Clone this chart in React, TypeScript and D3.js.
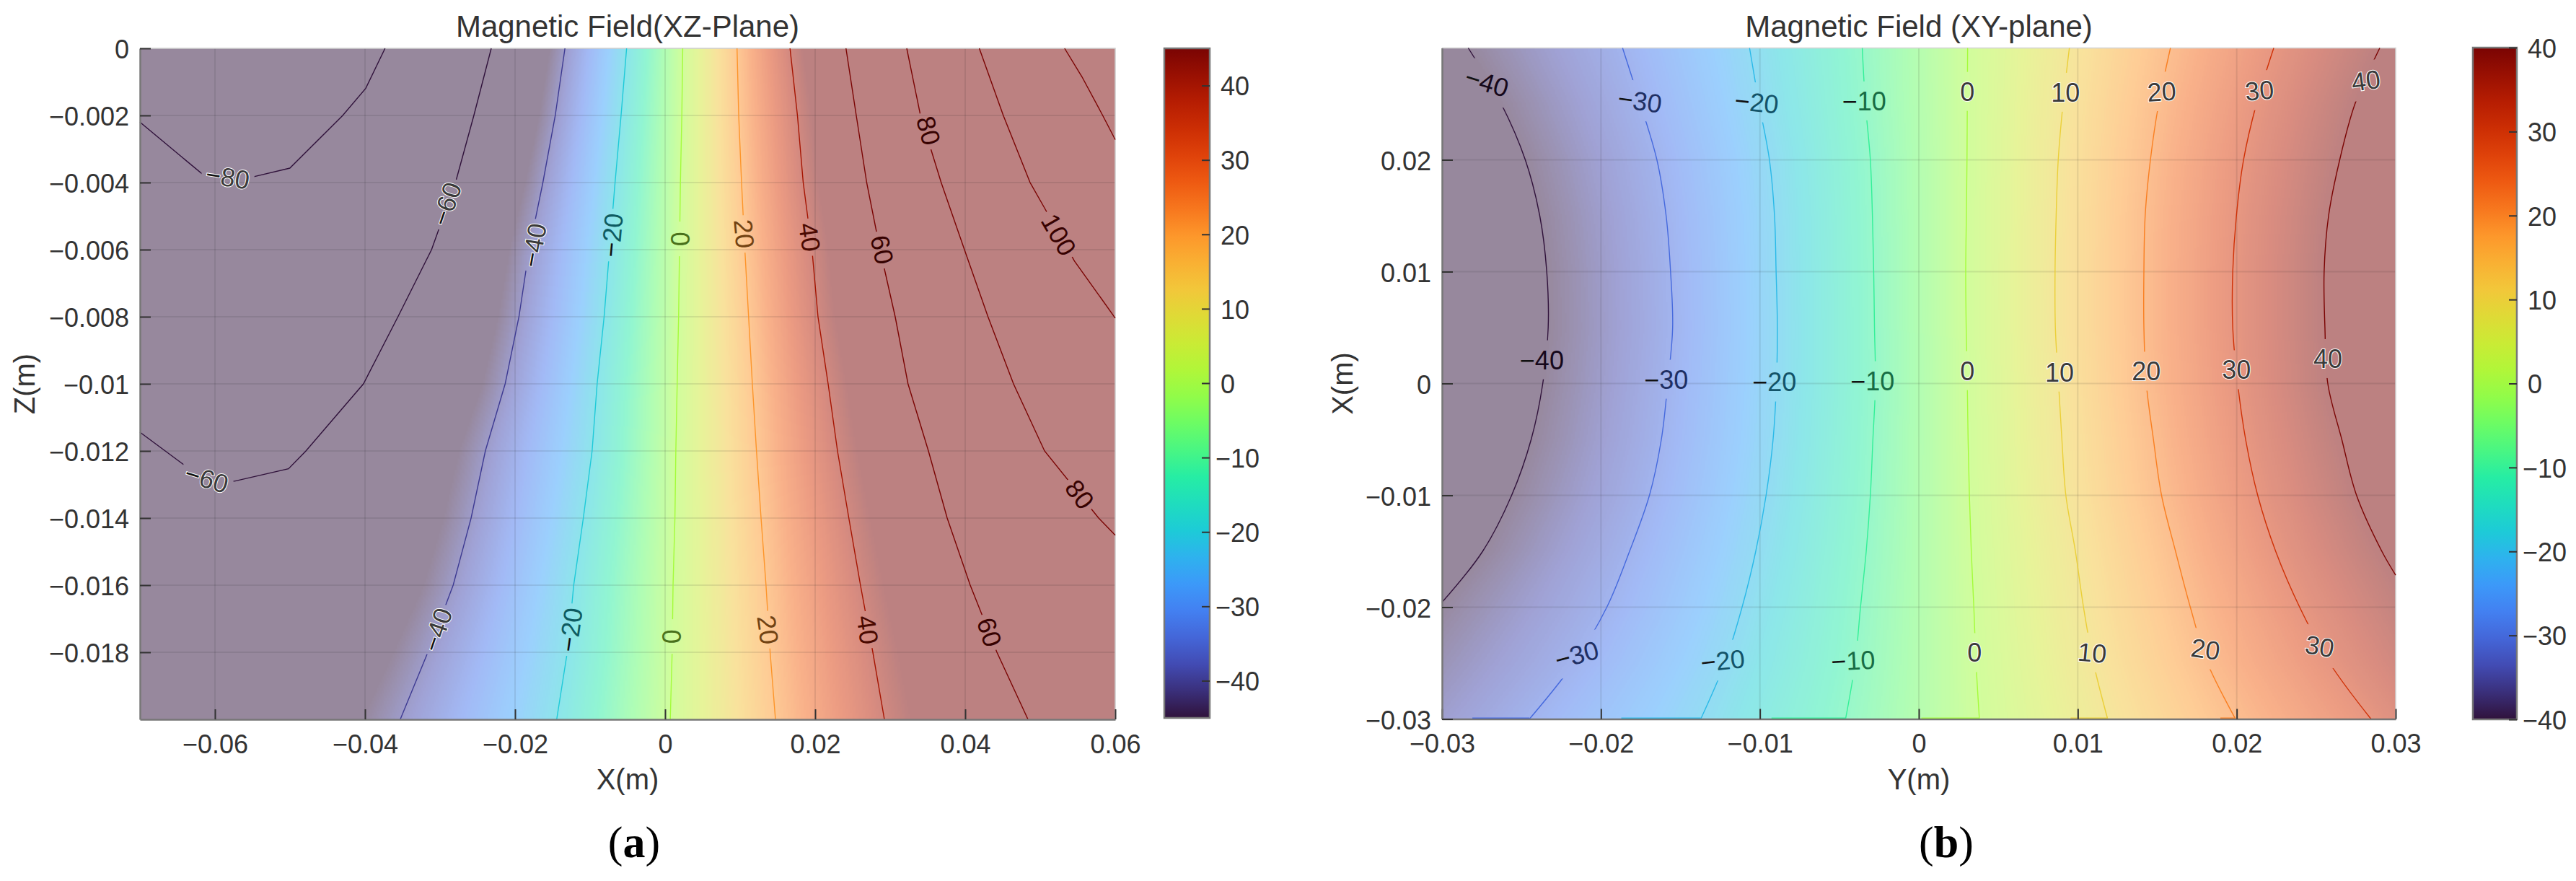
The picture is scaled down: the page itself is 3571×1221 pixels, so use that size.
import React, { useRef, useEffect } from "react"
import * as d3 from "d3"

// ---- panel (a), XZ plane: x position of each contour at each z row
const zRows = [0, -0.002, -0.004, -0.006, -0.008, -0.01, -0.012, -0.014, -0.016, -0.018, -0.02]
const xzM40 = [-0.01335, -0.01464, -0.01629, -0.01813, -0.01948, -0.02132, -0.02396, -0.02586, -0.02825, -0.03162, -0.0353]
const xzM20 = [-0.00513, -0.00587, -0.00667, -0.0074, -0.00813, -0.00906, -0.00973, -0.0109, -0.01218, -0.01304, -0.01445]
const xz0 = [0.00235, 0.00223, 0.00204, 0.00192, 0.0018, 0.00161, 0.00143, 0.00131, 0.00106, 0.00094, 0.00069]
const xz20 = [0.00959, 0.00981, 0.01019, 0.01063, 0.01113, 0.01163, 0.01218, 0.01279, 0.01345, 0.014, 0.01471]
const xz40 = [0.01665, 0.01764, 0.01841, 0.01958, 0.02038, 0.02173, 0.02298, 0.02449, 0.02604, 0.02769, 0.02923]
const xz60 = [0.02411, 0.02548, 0.02687, 0.02865, 0.03067, 0.03238, 0.0351, 0.0376, 0.04067, 0.04423, 0.04837]
const xz80 = [[0.03221, 0], [0.03404, -0.002], [0.0368, -0.004], [0.0399, -0.006], [0.04304, -0.008], [0.04644, -0.01], [0.05058, -0.012], [0.05779, -0.014], [0.06, -0.01451]]
const xz100 = [[0.04188, 0], [0.04508, -0.002], [0.04865, -0.004], [0.05048, -0.00472], [0.05457, -0.00634], [0.06, -0.00804]]
const xz120 = [[0.05325, 0], [0.05557, -0.00085], [0.05833, -0.002], [0.06, -0.00272]]
const xzM60 = [[-0.02317, 0], [-0.02549, -0.002], [-0.02794, -0.004], [-0.03113, -0.006], [-0.03561, -0.008], [-0.04021, -0.01], [-0.04788, -0.012], [-0.0502, -0.01253], [-0.0574, -0.0129], [-0.0611, -0.01282], [-0.0641, -0.01242], [-0.07, -0.01144]]
const xzM80 = [[-0.03733, 0], [-0.0399, -0.00119], [-0.04297, -0.002], [-0.05002, -0.00357], [-0.05492, -0.00383], [-0.058, -0.00383], [-0.06167, -0.00375], [-0.07, -0.0022]]

// [level, x, z, rotation, halo]
const labelsA = [
  [-80, -0.0583, -0.00383, 9, 1], [-60, -0.02917, -0.00464, -71, 1], [-60, -0.0611, -0.01282, 17, 1],
  [-40, -0.01752, -0.00587, -80, 1], [-20, -0.0071, -0.00557, -85, 0], [0, 0.00198, -0.00568, -90, 0],
  [20, 0.01058, -0.00553, 85, 0], [40, 0.0193, -0.00563, 82, 0], [60, 0.02895, -0.006, 78, 0],
  [80, 0.03514, -0.00245, 75, 0], [100, 0.0525, -0.00555, 60, 0],
  [-40, -0.0304, -0.01733, -71, 1], [-20, -0.01262, -0.01733, -82, 0], [0, 0.00087, -0.01753, -90, 0],
  [20, 0.01373, -0.01733, 82, 0], [40, 0.02702, -0.01733, 82, 0], [60, 0.04326, -0.0174, 72, 0], [80, 0.05529, -0.01329, 53, 0],
]

// ---- panel (b), XY plane: y position (horizontal axis) of each contour at each x row
const xRows = [0.03, 0.025, 0.02, 0.015, 0.01, 0.005, 0, -0.005, -0.01, -0.015, -0.02, -0.025, -0.03]
const xyM40 = [-0.02835, -0.02627, -0.02476, -0.02385, -0.02341, -0.02332, -0.02366, -0.02439, -0.02562, -0.02744]
const xyM30 = [-0.01864, -0.01752, -0.01648, -0.0159, -0.01562, -0.01549, -0.0158, -0.0162, -0.01695, -0.0182, -0.01963, -0.02171, -0.0245]
const xyM20 = [-0.01065, -0.01005, -0.0094, -0.00908, -0.00898, -0.0089, -0.00896, -0.00917, -0.00961, -0.01026, -0.01112, -0.01221, -0.01372]
const xyM10 = [-0.00356, -0.00336, -0.00305, -0.00292, -0.00284, -0.00279, -0.00273, -0.00289, -0.00305, -0.00331, -0.00367, -0.00401, -0.00461]
const xy0 = [0.00307, 0.00305, 0.00303, 0.00299, 0.00295, 0.00298, 0.00305, 0.0031, 0.00318, 0.0033, 0.00346, 0.0036, 0.00381]
const xy10 = [0.00947, 0.00907, 0.00877, 0.00864, 0.00857, 0.00859, 0.00879, 0.009, 0.00925, 0.00985, 0.01036, 0.01099, 0.01188]
const xy20 = [0.01583, 0.01509, 0.01457, 0.01424, 0.01416, 0.01416, 0.01431, 0.01476, 0.01527, 0.01615, 0.01708, 0.01816, 0.01993]
const xy30 = [0.02233, 0.02124, 0.02043, 0.01998, 0.01975, 0.01975, 0.02006, 0.02056, 0.02132, 0.02245, 0.02396, 0.02585, 0.02845]
const xy40 = [0.029, 0.02744, 0.02648, 0.02578, 0.0255, 0.02555, 0.02573, 0.02661, 0.02754, 0.02913]

// where the contours run along the bottom edge of (b)
const bottomRuns = [
  [-30, [-0.0245, -0.02809]], [-20, [-0.01372, -0.01872]], [-10, [-0.00461, -0.00927]],
  [0, [0.00381, 0.00016]], [10, [0.01188, 0.00955]], [20, [0.01993, 0.01897]],
]

const labelsB = [
  [-40, -0.02718, 0.02694, 17, 0], [-30, -0.01755, 0.02528, 8, 0], [-20, -0.0102, 0.02516, 6, 0], [-10, -0.00344, 0.02527, 0, 0],
  [0, 0.00305, 0.02612, 0, 1], [10, 0.00922, 0.02604, 0, 1], [20, 0.01527, 0.02612, -3, 1], [30, 0.02143, 0.02622, -5, 1], [40, 0.02812, 0.02711, -8, 1],
  [-40, -0.02372, 0.00212, 0, 0], [-30, -0.0159, 0.00038, 0, 0], [-20, -0.00909, 0.00013, 0, 0], [-10, -0.00292, 0.00025, 0, 0],
  [0, 0.00305, 0.00115, 0, 1], [10, 0.00885, 0.00102, 0, 1], [20, 0.01431, 0.0011, 0, 1], [30, 0.01998, 0.00123, 0, 1], [40, 0.02573, 0.00223, 0, 1],
  [-30, -0.02153, -0.02424, -15, 0], [-20, -0.01234, -0.02476, -6, 0], [-10, -0.00414, -0.02476, -3, 0],
  [0, 0.00351, -0.02406, 0, 1], [10, 0.01091, -0.02406, 5, 1], [20, 0.01804, -0.02374, 8, 1], [30, 0.02522, -0.02348, 10, 1],
]

const xTicksA = [-0.06, -0.04, -0.02, 0, 0.02, 0.04, 0.06]
const yTicksA = [0, -0.002, -0.004, -0.006, -0.008, -0.01, -0.012, -0.014, -0.016, -0.018]
const xTicksB = [-0.03, -0.02, -0.01, 0, 0.01, 0.02, 0.03]
const yTicksB = [0.02, 0.01, 0, -0.01, -0.02, -0.03]
const barTicks = [-40, -30, -20, -10, 0, 10, 20, 30, 40]

// the colour map of the bars, d3's own turbo ends on other colours
const turboStops = ["#30123b", "#4145ab", "#4675ed", "#39a2fc", "#1bcfd4", "#24eca6", "#61fc6c", "#a4fc3b", "#d1e834", "#f3c63a", "#fe9b2d", "#f36315", "#d93806", "#b11901", "#7a0403"]
const turboMap = d3.piecewise(d3.interpolateRgb, turboStops)

const rowPts = (xs, rows) => xs.map((x, i) => [x, rows[i]])

const panelA = {
  id: "a",
  title: "Magnetic Field(XZ-Plane)",
  xLabel: "X(m)",
  yLabel: "Z(m)",
  caption: "a",
  captionX: 879,
  xDomain: [-0.07, 0.06],
  yDomain: [0, -0.02],
  box: { left: 194, right: 1546, top: 67, bottom: 997 },
  bar: { left: 1614, right: 1677, top: 67, bottom: 995 },
  barDomain: [-45, 45],
  xTicks: xTicksA,
  yTicks: yTicksA,
  yLabelX: 48,
  gapHeight: 36,
  labels: labelsA,
  curve: d3.curveLinear,
  runs: [],
  field: [
    [-40, rowPts(xzM40, zRows)], [-20, rowPts(xzM20, zRows)], [0, rowPts(xz0, zRows)],
    [20, rowPts(xz20, zRows)], [40, rowPts(xz40, zRows)],
  ],
  contours: [
    [-80, xzM80], [-60, xzM60], [-40, rowPts(xzM40, zRows)], [-20, rowPts(xzM20, zRows)], [0, rowPts(xz0, zRows)],
    [20, rowPts(xz20, zRows)], [40, rowPts(xz40, zRows)], [60, rowPts(xz60, zRows)], [80, xz80], [100, xz100], [120, xz120],
  ],
}

const endM40 = [[-0.03, -0.01957]]
const end40 = [[0.03, -0.01713]]

const contoursB = [
  [-40, rowPts(xyM40, xRows).concat(endM40)], [-30, rowPts(xyM30, xRows)], [-20, rowPts(xyM20, xRows)], [-10, rowPts(xyM10, xRows)],
  [0, rowPts(xy0, xRows)], [10, rowPts(xy10, xRows)], [20, rowPts(xy20, xRows)], [30, rowPts(xy30, xRows)], [40, rowPts(xy40, xRows).concat(end40)],
]

const panelB = {
  id: "b",
  title: "Magnetic Field (XY-plane)",
  xLabel: "Y(m)",
  yLabel: "X(m)",
  caption: "b",
  captionX: 2698,
  xDomain: [-0.03, 0.03],
  yDomain: [0.03, -0.03],
  box: { left: 1999, right: 3321, top: 66.5, bottom: 996.5 },
  bar: { left: 3428, right: 3489, top: 66, bottom: 997 },
  barDomain: [-40, 40],
  xTicks: xTicksB,
  yTicks: yTicksB,
  yLabelX: 1875,
  gapHeight: 54,
  labels: labelsB,
  curve: d3.curveCatmullRom.alpha(0.5),
  runs: bottomRuns,
  field: contoursB,
  contours: contoursB,
}

const SANS = '"Liberation Sans", Arial, sans-serif'
const INK = "#333"

// paints the field into a half resolution canvas, contour positions drive the values
function heatImage(p, x, y) {
  const { left, right, top, bottom } = p.box
  const w = Math.round((right - left) / 2)
  const h = Math.round((bottom - top) / 2)
  const canvas = document.createElement("canvas")
  canvas.width = w
  canvas.height = h
  const ctx = canvas.getContext("2d")
  const img = ctx.createImageData(w, h)
  const lut = d3.range(256).map(i => d3.rgb(turboMap(i / 255)))
  const toIndex = d3.scaleLinear().domain(p.barDomain).rangeRound([0, 255]).clamp(true)
  const crossings = p.field.map(([, pts]) =>
    d3.scaleLinear().domain(pts.map(d => d[1])).range(pts.map(d => d[0])))
  const levels = p.field.map(d => d[0])
  for (let j = 0; j < h; j++) {
    const yv = y.invert(top + (j + 0.5) * 2)
    const valueAt = d3.scaleLinear().domain(crossings.map(s => s(yv))).range(levels)
    for (let i = 0; i < w; i++) {
      const c = lut[toIndex(valueAt(x.invert(left + (i + 0.5) * 2)))]
      const k = (j * w + i) * 4
      img.data[k] = c.r
      img.data[k + 1] = c.g
      img.data[k + 2] = c.b
      img.data[k + 3] = 128
    }
  }
  ctx.putImageData(img, 0, 0)
  return canvas.toDataURL()
}

function drawPanel(svg, defs, p) {
  const { left, right, top, bottom } = p.box
  const x = d3.scaleLinear().domain(p.xDomain).range([left, right])
  const y = d3.scaleLinear().domain(p.yDomain).range([top, bottom])
  const g = svg.append("g")

  g.append("image")
    .attr("x", left).attr("y", top)
    .attr("width", right - left).attr("height", bottom - top)
    .attr("preserveAspectRatio", "none")
    .attr("href", heatImage(p, x, y))

  // grid
  g.append("g").selectAll("line").data(p.xTicks).join("line")
    .attr("x1", d => x(d)).attr("x2", d => x(d))
    .attr("y1", top).attr("y2", bottom)
    .attr("stroke", "#222").attr("stroke-opacity", 0.1).attr("stroke-width", 2)
  g.append("g").selectAll("line").data(p.yTicks).join("line")
    .attr("x1", left).attr("x2", right)
    .attr("y1", d => y(d)).attr("y2", d => y(d))
    .attr("stroke", "#222").attr("stroke-opacity", 0.1).attr("stroke-width", 2)

  // light top and right edges
  g.append("path")
    .attr("d", `M${left},${top}H${right}V${bottom}`)
    .attr("fill", "none").attr("stroke", "#d4d4d4").attr("stroke-width", 1.5)

  const colour = d3.scaleLinear().domain(p.barDomain).range([0, 1]).clamp(true)
  const turbo = v => turboMap(colour(v))
  const textWidth = v => (v < 0 ? 21 : 0) + String(Math.abs(v)).length * 20

  // gaps in the contours where the labels sit
  const mask = defs.append("mask").attr("id", "gaps-" + p.id)
    .attr("maskUnits", "userSpaceOnUse")
    .attr("x", 0).attr("y", 0).attr("width", 3571).attr("height", 1221)
  mask.append("rect").attr("width", 3571).attr("height", 1221).attr("fill", "white")
  mask.selectAll("rect.gap").data(p.labels).join("rect")
    .attr("class", "gap")
    .attr("x", d => -Math.max(textWidth(d[0]) + 12, 48) / 2)
    .attr("y", -p.gapHeight / 2)
    .attr("width", d => Math.max(textWidth(d[0]) + 12, 48))
    .attr("height", p.gapHeight)
    .attr("fill", "black")
    .attr("transform", d => `translate(${x(d[1])},${y(d[2])}) rotate(${d[3]})`)

  const line = d3.line().x(d => x(d[0])).y(d => y(d[1])).curve(p.curve)
  g.append("g").attr("mask", `url(#gaps-${p.id})`)
    .selectAll("path").data(p.contours).join("path")
    .attr("d", d => line(d[1]))
    .attr("fill", "none")
    .attr("stroke", d => turbo(d[0]))
    .attr("stroke-width", 1.4)

  // short stretches of contour lying on the bottom edge
  g.append("g").selectAll("line").data(p.runs).join("line")
    .attr("x1", d => x(d[1][0])).attr("x2", d => x(d[1][1]))
    .attr("y1", bottom - 1).attr("y2", bottom - 1)
    .attr("stroke", d => turbo(d[0]))
    .attr("stroke-width", 2)

  // contour labels
  const labels = g.append("g").selectAll("text").data(p.labels).join("text")
    .attr("transform", d => `translate(${x(d[1])},${y(d[2])}) rotate(${d[3]})`)
    .attr("text-anchor", "middle")
    .attr("dy", "0.36em")
    .attr("font-family", SANS)
    .attr("font-size", 36)
    .attr("fill", d => d[4] ? "#3a3a3a" : d3.interpolateRgb(turbo(d[0]), "#000")(0.55))
    .attr("stroke", d => d[4] ? "#fff" : "none")
    .attr("stroke-width", 2)
    .attr("paint-order", "stroke")
  labels.filter(d => d[0] < 0).append("tspan")
    .attr("fill", "#111").text("\u2212")
  labels.append("tspan").text(d => Math.abs(d[0]))

  // axes
  const fmt = d3.format("~g")
  const bottomAxis = g.append("g").attr("transform", `translate(0,${bottom})`)
    .call(d3.axisBottom(x).tickValues(p.xTicks).tickFormat(fmt).tickSizeInner(-14).tickSizeOuter(0).tickPadding(21))
  const leftAxis = g.append("g").attr("transform", `translate(${left},0)`)
    .call(d3.axisLeft(y).tickValues(p.yTicks).tickFormat(fmt).tickSizeInner(-15).tickSizeOuter(0).tickPadding(15))
  for (const a of [bottomAxis, leftAxis]) {
    a.select(".domain").attr("stroke", "#777").attr("stroke-width", 2.5)
    a.selectAll(".tick line").attr("stroke", "#333").attr("stroke-width", 2)
    a.selectAll("text").attr("font-family", SANS).attr("font-size", 36).attr("fill", INK)
  }
  leftAxis.selectAll("text").attr("dy", "0.375em")

  // titles
  const cx = (left + right) / 2
  const cy = (top + bottom) / 2
  g.append("text").attr("x", cx).attr("y", 51).attr("text-anchor", "middle")
    .attr("font-family", SANS).attr("font-size", 42).attr("fill", INK).text(p.title)
  g.append("text").attr("x", cx).attr("y", 1094).attr("text-anchor", "middle")
    .attr("font-family", SANS).attr("font-size", 40).attr("fill", INK).text(p.xLabel)
  g.append("text").attr("transform", `translate(${p.yLabelX},${cy}) rotate(-90)`).attr("text-anchor", "middle")
    .attr("font-family", SANS).attr("font-size", 40).attr("fill", INK).text(p.yLabel)

  const cap = g.append("text").attr("x", p.captionX).attr("y", 1188).attr("text-anchor", "middle")
    .attr("font-family", '"Liberation Serif", serif').attr("font-size", 62).attr("fill", "#000")
  cap.append("tspan").text("(")
  cap.append("tspan").attr("font-weight", "bold").text(p.caption)
  cap.append("tspan").text(")")

  // colour bar
  const b = p.bar
  const grad = defs.append("linearGradient").attr("id", "bar-" + p.id)
    .attr("x1", 0).attr("y1", 1).attr("x2", 0).attr("y2", 0)
  grad.selectAll("stop").data(d3.range(0, 1.0001, 0.04)).join("stop")
    .attr("offset", d => d)
    .attr("stop-color", d => turboMap(d))
  g.append("rect")
    .attr("x", b.left).attr("y", b.top)
    .attr("width", b.right - b.left).attr("height", b.bottom - b.top)
    .attr("fill", `url(#bar-${p.id})`)
    .attr("stroke", "#777").attr("stroke-width", 2.5)
  const barScale = d3.scaleLinear().domain(p.barDomain).range([b.bottom, b.top])
  const barAxis = g.append("g").attr("transform", `translate(${b.right},0)`)
    .call(d3.axisRight(barScale).tickValues(barTicks).tickFormat(fmt).tickSizeInner(-11).tickSizeOuter(0).tickPadding(15))
  barAxis.select(".domain").remove()
  barAxis.selectAll(".tick line").attr("stroke", "#333").attr("stroke-width", 2)
  barAxis.selectAll("text")
    .attr("font-family", SANS).attr("font-size", 36).attr("fill", INK)
    .attr("x", d => d < 0 ? 8 : 15)
    .attr("dy", "0.37em")
}

export default function App() {
  const el = useRef(null)

  useEffect(function () {
    const svg = d3.select(el.current)
    svg.selectAll("*").remove()
    const defs = svg.append("defs")
    drawPanel(svg, defs, panelA)
    drawPanel(svg, defs, panelB)
  }, [])

  return <svg ref={el} width={3571} height={1221}
    style={{ position: "absolute", left: 0, top: 0, display: "block", background: "#fff" }} />
}
